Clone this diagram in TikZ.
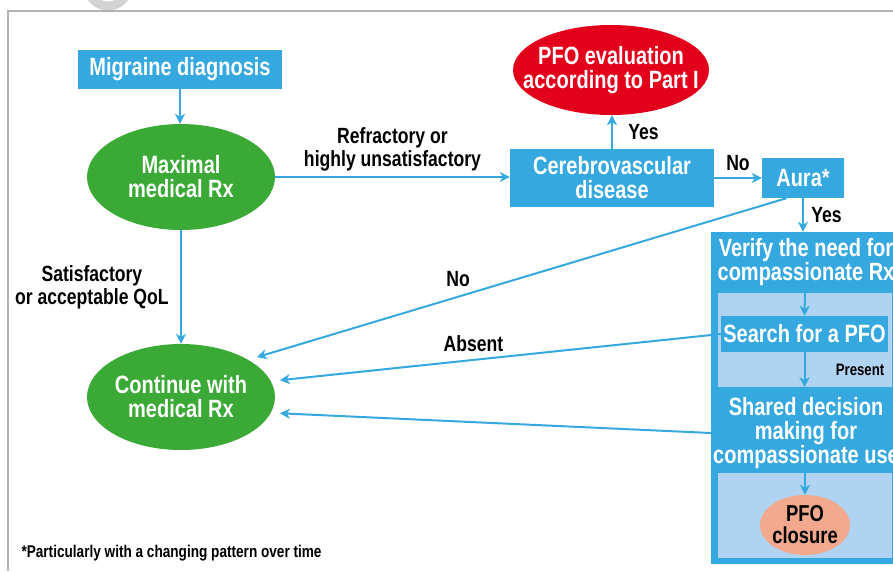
\documentclass[tikz,border=0pt]{standalone}
\usepackage{fontspec}
\setmainfont{Liberation Sans}[FakeStretch=0.8]
\usetikzlibrary{shapes.geometric,arrows.meta,calc}
\definecolor{cvblue}{HTML}{35A8E0}
\definecolor{cvlight}{HTML}{AFD3F1}
\definecolor{cvgreen}{HTML}{3AA935}
\definecolor{cvred}{HTML}{E2001A}
\definecolor{cvsalmon}{HTML}{F3A98D}

\begin{document}
\begin{tikzpicture}[x=1pt,y=-1pt,
  big/.style={font=\bfseries\fontsize{25}{24}\selectfont, text=white, align=center},
  box/.style={big, fill=cvblue, inner sep=0pt},
  oval/.style={big, ellipse, inner sep=0pt, minimum width=188, minimum height=106},
  panel/.style={inner sep=0pt, minimum width=174},
  lbl/.style={font=\bfseries\fontsize{22}{23}\selectfont, align=center, text=black},
  arr/.style={cvblue, line width=2pt, -{Stealth[length=10pt,width=10pt,inset=3pt]}}]
 \useasboundingbox (0,0) rectangle (893,571);
 \clip (0,0) rectangle (893,571);
 \draw[gray!35, line width=9pt] (108,-14) circle[radius=20];
 \draw[gray!60, line width=1.2pt] (8,571) -- (8,11) -- (893,11);

 % left column
 \node[box, minimum width=204, minimum height=39] (migraine) at (180,69.5) {Migraine diagnosis};
 \node[oval, fill=cvgreen] (maximal) at (181,177) {Maximal\\medical Rx};
 \node[oval, fill=cvgreen] (continue) at (181,397) {Continue with\\medical Rx};

 % top row
 \node[box, minimum width=204, minimum height=58] (cerebro) at (612,178) {Cerebrovascular\\disease};
 \node[oval, fill=cvred, minimum width=196, minimum height=90, inner xsep=-20pt, inner ysep=4pt] (pfoeval) at (611,70) {PFO evaluation\\according to Part I};
 \node[box, minimum width=82, minimum height=40] (aura) at (803,178) {Aura*};

 % compassionate branch
 \node[fill=cvblue, inner sep=0pt, minimum width=188, minimum height=332] (verify) at (805,398) {};
 \node[big] (verifytxt) at (806,262) {Verify the need for\\compassionate Rx};
 \node[panel, fill=cvlight, minimum height=94] (panelA) at (805,340) {};
 \node[box, minimum width=167, minimum height=36] (search) at (804.5,334) {Search for a PFO};
 \node[big] (shared) at (806,433) {Shared decision\\making for\\compassionate use};
 \node[panel, fill=cvlight, minimum height=85] (panelB) at (805,515.5) {};
 \node[oval, fill=cvsalmon, text=black, minimum width=90, minimum height=60, inner xsep=-6pt, inner ysep=-3pt, font=\bfseries\fontsize{23}{22}\selectfont] (closure) at (805,525) {PFO\\closure};

 \draw[arr] (migraine.south) -- (migraine.south |- maximal.north);
 \draw[arr] (maximal.east) -- node[lbl, above=2pt] {Refractory or\\highly unsatisfactory} (maximal.east -| cerebro.west);
 \draw[arr] (maximal.south) -- node[lbl, left=8pt] {Satisfactory\\or acceptable QoL} (continue.north);
 \draw[arr] (cerebro.north) -- node[lbl, right=12pt] {Yes} (cerebro.north |- pfoeval.south);
 \draw[arr] (cerebro.east) -- node[lbl, above=3pt] {No} (cerebro.east -| aura.west);
 \draw[arr] (aura.south) -- node[lbl, right=4pt] {Yes} (aura.south |- verify.north);
 \draw[arr, shorten >=9pt] ($(aura.south west)!0.3!(aura.south east)$) -- node[lbl, pos=0.61, above=6pt] {No} (continue.29);
 \draw[arr, shorten >=9pt] (search.west) -- node[lbl, pos=0.55, above=4pt] {Absent} (continue.10);
 \draw[arr, shorten >=9pt] (verify.west |- shared.center) -- (continue.-10);
 \draw[arr] (panelA.north) -- (search.north);
 \draw[arr] (search.south) -- node[lbl, font=\bfseries\fontsize{16.5}{17}\selectfont, right=27pt] {Present} (search.south |- panelA.south);
 \draw[arr] (panelB.north) -- (closure.north);

 \node[anchor=west, font=\bfseries\fontsize{17}{18}\selectfont] (note) at (18,553) {*Particularly with a changing pattern over time};
\end{tikzpicture}
\end{document}
